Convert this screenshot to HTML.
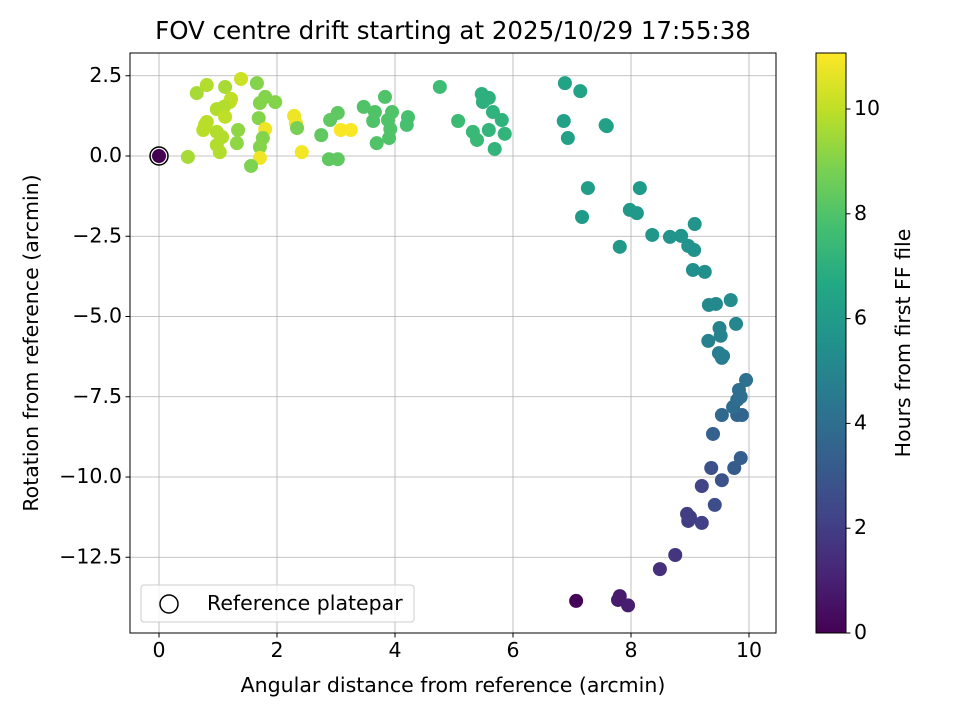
<!DOCTYPE html>
<html><head><meta charset="utf-8"><style>
body{margin:0;background:#fff;}
svg text{font-family:"DejaVu Sans","Liberation Sans",sans-serif;fill:#000;font-size:20.5px;}
svg text.ttl{font-size:24.5px;}
</style></head><body>
<svg id="chart" width="960" height="720" xmlns="http://www.w3.org/2000/svg">
<defs>
<linearGradient id="vir" x1="0" y1="1" x2="0" y2="0">
<stop offset="0" stop-color="#440154"/><stop offset="0.1" stop-color="#482475"/><stop offset="0.2" stop-color="#414487"/><stop offset="0.3" stop-color="#355f8d"/><stop offset="0.4" stop-color="#2a788e"/><stop offset="0.5" stop-color="#21918c"/><stop offset="0.6" stop-color="#22a884"/><stop offset="0.7" stop-color="#44bf70"/><stop offset="0.8" stop-color="#7ad151"/><stop offset="0.9" stop-color="#bddf26"/><stop offset="1" stop-color="#fde725"/>
</linearGradient>
</defs>
<text class="ttl" x="453" y="39" text-anchor="middle">FOV centre drift starting at 2025/10/29 17:55:38</text>
<g id="grid"></g>
<g id="pts"></g>
<rect x="130" y="53" width="646" height="580" fill="none" stroke="#000" stroke-width="1"/>
<g id="axes"></g>
<text x="453" y="692" text-anchor="middle">Angular distance from reference (arcmin)</text>
<text transform="translate(38,343) rotate(-90)" text-anchor="middle">Rotation from reference (arcmin)</text>
<g>
<rect x="141" y="585" width="273" height="37" rx="3" fill="#fff" fill-opacity="0.8" stroke="#ccc"/>
<circle cx="169" cy="604" r="9" fill="none" stroke="#000" stroke-width="1.5"/>
<text x="207" y="610">Reference platepar</text>
</g>
<rect x="816" y="53" width="30" height="580" fill="url(#vir)" stroke="#000" stroke-width="1"/>
<g id="cbticks"></g>
<text transform="translate(910,343) rotate(-90)" text-anchor="middle">Hours from first FF file</text>
</svg>
<script>
const xs=[7.07,7.78,7.81,7.95,8.49,8.75,8.95,9.0,9.2,8.97,9.2,9.42,9.36,9.54,9.75,9.86,9.39,9.8,9.88,9.54,9.73,9.8,9.83,9.86,9.95,9.54,9.56,9.49,9.31,9.52,9.5,9.78,9.32,9.44,9.69,9.25,9.05,9.07,8.97,8.85,8.66,8.36,9.08,7.81,8.1,7.98,8.15,7.17,7.27,6.86,6.93,7.59,7.57,6.88,7.14,4.76,5.47,5.59,5.49,5.66,5.81,5.07,5.32,5.39,5.59,5.86,5.69,0.49,0.64,0.81,1.12,1.39,1.66,1.22,1.2,1.8,1.97,1.71,0.98,1.1,1.12,0.81,0.78,0.75,0.98,1.07,0.98,1.03,1.34,1.32,1.69,1.8,1.76,1.71,1.71,1.56,2.29,2.32,2.34,2.42,2.75,2.9,3.03,2.88,3.03,3.08,3.25,3.47,3.66,3.63,3.83,3.95,3.88,3.92,3.9,3.69,4.22,4.2,0];
const ys=[-13.86,-13.83,-13.71,-14.0,-12.87,-12.43,-11.15,-11.25,-11.43,-11.37,-10.28,-10.87,-9.72,-10.1,-9.72,-9.41,-8.66,-8.07,-8.07,-8.07,-7.82,-7.6,-7.29,-7.5,-6.98,-6.29,-6.23,-6.14,-5.76,-5.6,-5.36,-5.23,-4.64,-4.61,-4.49,-3.61,-3.55,-2.93,-2.8,-2.49,-2.52,-2.46,-2.12,-2.83,-1.78,-1.68,-1.0,-1.9,-1.0,1.09,0.56,0.93,0.96,2.27,2.02,2.15,1.93,1.81,1.68,1.37,1.12,1.09,0.75,0.5,0.81,0.69,0.22,-0.03,1.96,2.21,2.15,2.4,2.27,1.78,1.68,1.84,1.68,1.65,1.46,1.53,1.22,1.06,0.97,0.81,0.75,0.59,0.34,0.12,0.81,0.4,1.18,0.84,0.56,0.28,-0.06,-0.31,1.25,1.03,0.87,0.12,0.65,1.12,1.34,-0.1,-0.1,0.81,0.81,1.53,1.37,1.09,1.84,1.37,1.12,0.84,0.56,0.4,1.21,0.97,0];
const hours=[0.1,0.8,0.8,0.9,1.5,1.7,2.0,2.0,2.1,2.0,2.2,2.6,2.7,2.8,3.2,3.3,3.4,3.6,3.6,3.7,3.9,3.9,4.0,4.0,4.1,4.7,4.7,4.7,4.8,4.9,4.9,5.1,5.2,5.2,5.3,5.5,5.5,5.6,5.6,5.7,5.7,5.8,5.7,5.9,5.9,5.9,6.0,6.0,6.1,6.3,6.3,6.3,6.3,6.4,6.4,7.6,7.0,7.0,7.0,7.1,7.1,7.5,7.4,7.4,7.2,7.2,7.2,9.6,9.6,9.8,9.6,10.2,9.0,10.0,10.0,9.0,9.0,9.0,9.8,9.8,10.0,9.9,9.9,9.9,9.8,9.8,9.8,9.8,9.2,9.2,9.0,10.8,9.0,9.0,10.8,8.9,10.8,10.8,8.8,10.9,8.3,8.3,8.3,8.3,8.3,11.0,11.0,8.0,8.0,8.0,8.0,8.0,8.0,8.0,8.0,8.0,7.8,7.8,0];
const xTicks=[0,2,4,6,8,10];
const yTicks=[2.5,0,-2.5,-5,-7.5,-10,-12.5];
const yTickLabels=["2.5","0.0","\u22122.5","\u22125.0","\u22127.5","\u221210.0","\u221212.5"];
const cTicks=[0,2,4,6,8,10];
const X=v=>159+v*59, Y=v=>156-v*32.1, C=v=>633-v*52.4;
const stops=["#440154","#482475","#414487","#355f8d","#2a788e","#21918c","#22a884","#44bf70","#7ad151","#bddf26","#fde725"];
function hex(h){return [1,3,5].map(i=>parseInt(h.substr(i,2),16));}
function vir(v){let t=Math.max(0,Math.min(1,v/11.07))*10;let i=Math.min(9,Math.floor(t)),f=t-i;const a=hex(stops[i]),b=hex(stops[i+1]);return `rgb(${a.map((c,k)=>Math.round(c+(b[k]-c)*f)).join(',')})`;}
const NS="http://www.w3.org/2000/svg";
function mk(tag,at,parent){const e=document.createElementNS(NS,tag);for(const k in at)e.setAttribute(k,at[k]);document.getElementById(parent).appendChild(e);return e;}
xTicks.forEach(v=>{
 const g=mk('line',{x1:X(v),x2:X(v),y1:53,y2:633,stroke:'#b0b0b0','stroke-width':0.8},'grid');
 
 
 mk('line',{x1:X(v),x2:X(v),y1:633,y2:637.5,stroke:'#000'},'axes');
 const t=mk('text',{x:X(v),y:657,'text-anchor':'middle'},'axes');
 
 
 t.textContent=v;
});
yTicks.forEach((v,i)=>{
 const g=mk('line',{x1:130,x2:776,y1:Y(v),y2:Y(v),stroke:'#b0b0b0','stroke-width':0.8},'grid');
 
 
 mk('line',{x1:125.5,x2:130,y1:Y(v),y2:Y(v),stroke:'#000'},'axes');
 const t=mk('text',{x:122,y:Y(v)+6,'text-anchor':'end'},'axes');
 
 
 t.textContent=yTickLabels[i];
});
cTicks.forEach(v=>{
 mk('line',{x1:846,x2:850.5,y1:C(v),y2:C(v),stroke:'#000'},'cbticks');
 const t=mk('text',{x:854,y:C(v)+6},'cbticks');
 
 
 t.textContent=v;
});
xs.forEach((x,i)=>{
 const c=mk('circle',{cx:X(x),cy:Y(ys[i]),r:7,fill:vir(hours[i])},'pts');
 
 
});
const r=mk('circle',{cx:X(0),cy:Y(0),r:9,fill:'none',stroke:'#000','stroke-width':1.5},'pts');


</script>
</body></html>
